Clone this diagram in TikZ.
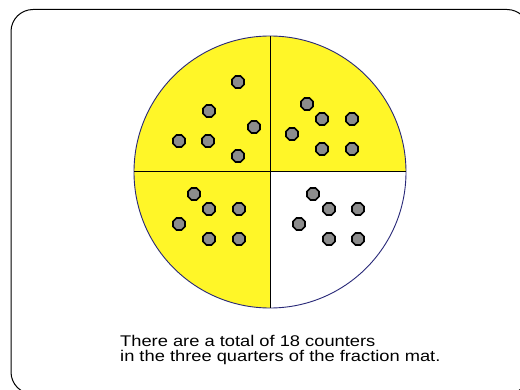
\documentclass[tikz,border=0pt]{standalone}
\usepackage{fontspec}
\setmainfont{Liberation Sans}
\usetikzlibrary{shapes.geometric}
\definecolor{matyellow}{RGB}{255,246,40}
\definecolor{rimblue}{RGB}{40,40,120}
\definecolor{ctrgray}{RGB}{140,140,140}
\tikzset{
  counter/.style={regular polygon, regular polygon sides=8, minimum size=13pt, inner sep=0pt,
    draw=black, line width=1.6pt, fill=ctrgray},
  label/.style={anchor=base west, font=\fontsize{15.5}{17}\selectfont, inner sep=0pt}
}
\begin{document}
\begin{tikzpicture}[x=1pt,y=-1pt]
\useasboundingbox (0,0) rectangle (520,390);
\fill[white] (0,0) rectangle (520,390);
\begin{scope}
\clip (0,0) rectangle (520,390);
\draw[line width=1pt, rounded corners=22pt] (11,9.5) rectangle (529,394);
\end{scope}
\coordinate (c) at (270,172);
% quadrants
\begin{scope}
\clip (134,36) rectangle (270,172) (270,36) rectangle (406,172) (134,172) rectangle (270,308);
\fill[matyellow] (c) circle[radius=136pt];
\end{scope}
\draw[rimblue, line width=0.9pt] (c) circle[radius=136pt];
\coordinate (l) at (134,172);
\coordinate (r) at (406,172);
\coordinate (t) at (270,36);
\coordinate (b) at (270,308);
\draw[line width=1pt] (l) -- (r);
\draw[line width=1pt] (t) -- (b);
% counters top-left
\foreach \p [count=\i] in {(238,82),(209,111),(254,127),(179,141),(208,141),(238,156)}
  \node[counter] (a\i) at \p {};
% top-right
\foreach \p [count=\i] in {(307,104),(322,119),(352,119),(292,134),(322,149),(352,149)}
  \node[counter] (b\i) at \p {};
% bottom-left
\foreach \p [count=\i] in {(194,194),(209,209),(239,209),(179,224),(209,239),(239,239)}
  \node[counter] (d\i) at \p {};
% bottom-right
\foreach \p [count=\i] in {(313,194),(329,209),(358,209),(299,224),(329,239),(358,239)}
  \node[counter] (e\i) at \p {};
\node[label] (t1) at (120,347) {\scalebox{1.18}[1]{There are a total of 18 counters}};
\node[label] (t2) at (120,361.5) {\scalebox{1.18}[1]{in the three quarters of the fraction mat.}};
\end{tikzpicture}
\end{document}
